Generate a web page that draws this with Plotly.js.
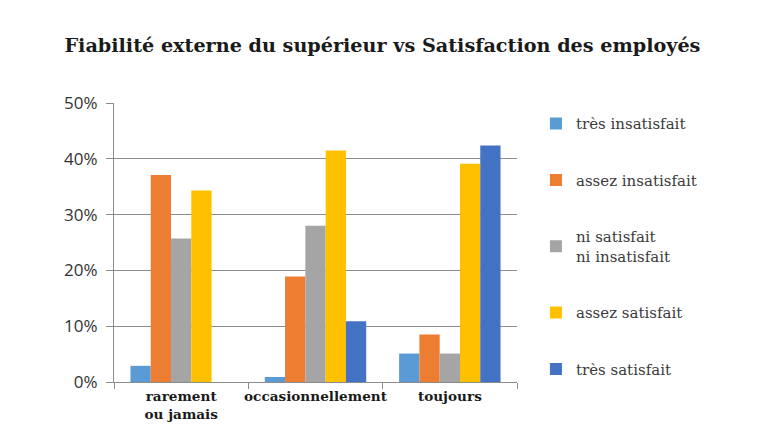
<!DOCTYPE html>
<html>
<head>
<meta charset="utf-8">
<script src="https://cdn.plot.ly/plotly-3.0.1.min.js"></script>
<style>
  html, body { margin: 0; padding: 0; background: #fff; }
  #graphique { width: 768px; height: 432px; }
</style>
</head>
<body>
<div id="graphique"></div>
<script>
// catégories (fiabilité externe du supérieur)
var categories = ['rarement<br>ou jamais', 'occasionnellement', 'toujours'];

// niveaux de satisfaction (légende)
var niveaux = ['très insatisfait', 'assez insatisfait', 'ni satisfait<br>ni insatisfait', 'assez satisfait', 'très satisfait'];

// pourcentages
var tresInsatisfait = [2.9, 0.9, 5.1];
var assezInsatisfait = [37.1, 18.9, 8.5];
var niSatisfait = [25.7, 28.0, 5.1];
var assezSatisfait = [34.3, 41.5, 39.1];
var tresSatisfait = [0, 10.9, 42.4];

var couleurs = ['#5B9BD5', '#ED7D31', '#A5A5A5', '#FFC000', '#4472C4'];
var series = [tresInsatisfait, assezInsatisfait, niSatisfait, assezSatisfait, tresSatisfait];

var traces = series.map(function(valeurs, i) {
    return {
        x: categories,
        y: valeurs,
        name: niveaux[i],
        legendgroup: 'g' + i,
        type: 'bar',
        marker: { color: couleurs[i] },
        hoverinfo: 'skip'
    };
});

var layout = {
    width: 768,
    height: 432,
    title: {
        text: '<b>Fiabilité externe du supérieur vs Satisfaction des employés</b>',
        font: { family: 'DejaVu Serif', size: 19.2, color: '#1a1a1a' },
        x: 0.498, xanchor: 'center',
        y: 0.895, yanchor: 'middle'
    },
    barmode: 'group',
    bargap: 0.245,
    bargroupgap: 0,
    xaxis: {
        tickfont: { family: 'DejaVu Serif', size: 13.6, color: '#1a1a1a' },
        tickprefix: '<b>', ticksuffix: '</b>',
        tickangle: 0,
        ticklabelstandoff: 2,
        showline: true, linecolor: '#8c8c8c', linewidth: 1,
        ticks: 'outside', tickson: 'boundaries', ticklen: 6, tickcolor: '#8c8c8c',
        showgrid: false,
        fixedrange: true
    },
    yaxis: {
        range: [0, 50],
        dtick: 10,
        ticksuffix: '%',
        tickfont: { family: 'Open Sans', size: 17, color: '#333' },
        ticklabelstandoff: 5,
        showline: true, linecolor: '#8c8c8c', linewidth: 1,
        ticks: 'outside', ticklen: 7, tickcolor: '#8c8c8c',
        gridcolor: '#8c8c8c', gridwidth: 1,
        zeroline: false,
        fixedrange: true
    },
    showlegend: true,
    legend: {
        x: 1.047, xanchor: 'left',
        y: 0.985, yanchor: 'top',
        traceorder: 'grouped',
        tracegroupgap: 34,
        font: { family: 'DejaVu Serif', size: 15, color: '#3a3a3a' },
        bgcolor: 'rgba(0,0,0,0)'
    },
    plot_bgcolor: '#ffffff',
    paper_bgcolor: '#ffffff',
    margin: { t: 103, b: 50, l: 114, r: 251 }
};

Plotly.newPlot('graphique', traces, layout, { displayModeBar: false, staticPlot: true });
</script>
</body>
</html>
